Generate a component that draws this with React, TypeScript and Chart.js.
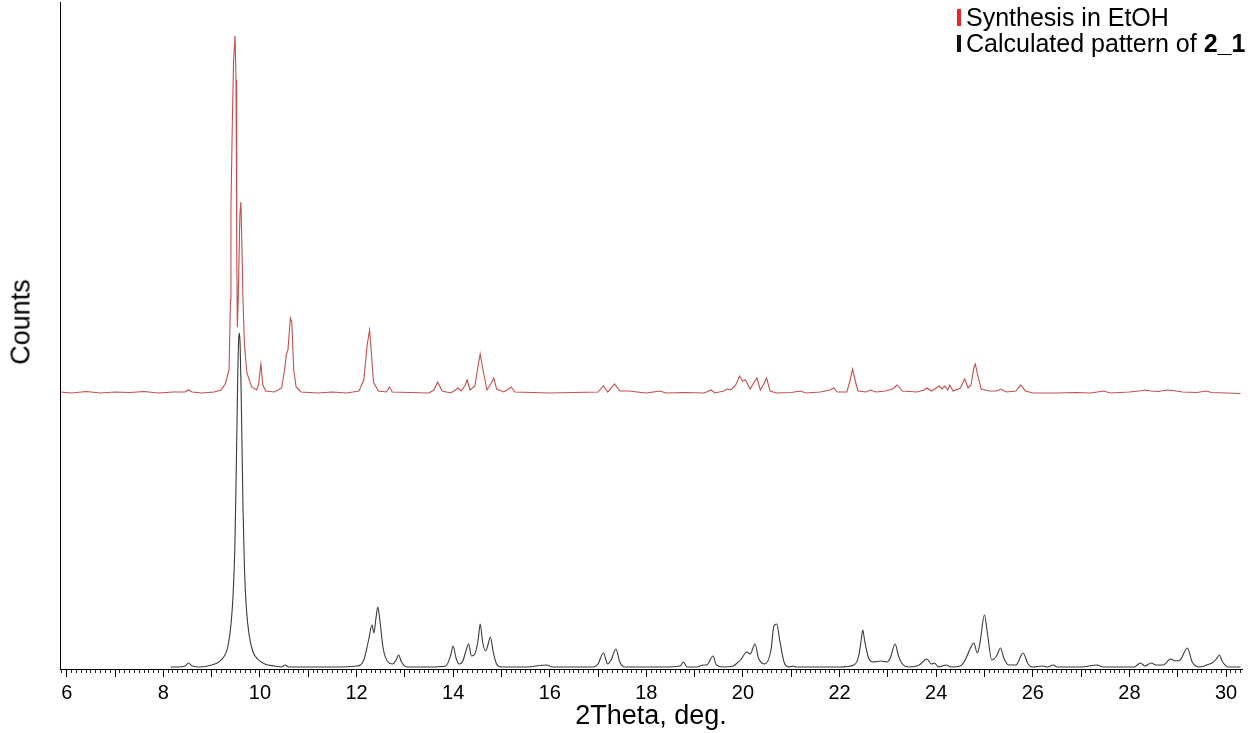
import { useEffect, useRef } from "react";
import { Chart, registerables } from "chart.js";

Chart.register(...registerables);

// ---- Data: [2Theta (deg), counts (arb. units)] ----
const synthesisEtOH: [number, number][] = [
  [5.87, 277], [6.1, 276], [6.4, 277.5], [6.7, 276], [7.0, 277], [7.3, 276.5], [7.6, 277.5], [7.9, 276],
  [8.2, 277], [8.45, 277], [8.52, 279], [8.6, 277], [8.8, 276], [9.05, 277], [9.2, 279], [9.29, 286],
  [9.36, 299], [9.39, 369], [9.40, 462], [9.43, 549], [9.455, 609], [9.485, 633], [9.505, 589], [9.52, 419],
  [9.532, 342], [9.55, 369], [9.585, 454], [9.605, 467], [9.625, 429], [9.65, 369], [9.68, 324], [9.73, 296],
  [9.83, 282], [9.93, 279], [9.97, 284], [10.02, 305], [10.06, 284], [10.12, 278], [10.3, 277], [10.45, 281],
  [10.51, 299], [10.55, 315], [10.58, 319], [10.63, 351], [10.66, 347], [10.70, 299], [10.75, 282], [10.85, 277],
  [11.2, 276], [11.5, 277], [11.8, 276], [12.05, 278], [12.15, 289], [12.22, 324], [12.27, 339], [12.30, 321],
  [12.35, 287], [12.45, 278], [12.62, 277], [12.68, 282], [12.74, 277], [13.5, 276], [13.6, 279], [13.68, 287],
  [13.77, 278], [13.95, 276], [14.05, 279], [14.10, 281], [14.17, 278], [14.25, 284], [14.29, 289], [14.35, 279],
  [14.45, 283], [14.52, 304], [14.56, 315], [14.61, 301], [14.70, 279], [14.79, 286], [14.84, 291], [14.90, 280],
  [15.05, 277], [15.15, 280], [15.20, 282], [15.28, 277], [16.0, 276], [16.5, 276.5], [17.0, 277], [17.11, 283],
  [17.2, 277], [17.34, 285], [17.45, 278], [17.63, 278], [18.0, 276], [18.29, 278], [18.4, 276], [18.8, 276.5],
  [19.2, 276], [19.34, 279], [19.42, 276], [19.6, 278], [19.67, 280], [19.75, 279], [19.85, 284], [19.93, 293],
  [19.99, 288], [20.05, 289], [20.15, 280], [20.22, 286], [20.29, 291], [20.36, 279], [20.43, 285], [20.49, 291],
  [20.56, 278], [20.7, 276], [21.0, 276.5], [21.19, 278], [21.3, 276], [21.6, 277], [21.8, 279], [21.88, 281],
  [21.95, 277], [22.15, 277], [22.22, 289], [22.27, 300], [22.32, 289], [22.38, 278], [22.55, 277], [22.64, 279],
  [22.75, 277], [22.95, 278], [23.1, 280], [23.19, 284], [23.3, 278], [23.6, 277], [23.75, 279], [23.81, 281],
  [23.9, 278], [24.0, 281], [24.06, 283], [24.12, 280], [24.18, 283], [24.24, 279], [24.28, 284], [24.35, 278],
  [24.5, 281], [24.59, 290], [24.66, 281], [24.72, 284], [24.78, 301], [24.81, 305], [24.86, 294], [24.93, 280],
  [25.1, 278], [25.25, 278], [25.34, 280], [25.45, 277], [25.65, 278], [25.75, 284], [25.85, 278], [26.0, 276],
  [26.5, 276], [26.9, 276.5], [27.2, 276], [27.47, 278], [27.6, 276], [28.0, 277], [28.2, 278], [28.33, 279],
  [28.45, 278], [28.6, 277.5], [28.77, 279], [28.9, 278.5], [29.1, 277], [29.4, 276.5], [29.59, 278], [29.7, 276.5],
  [30.0, 276], [30.3, 275.5],
];

const calculated21: [number, number][] = [
  [8.15, 2], [8.3, 2], [8.45, 3], [8.52, 6], [8.6, 3], [8.75, 2], [9.0, 4], [9.15, 7],
  [9.25, 12], [9.33, 21], [9.4, 44], [9.45, 80], [9.48, 120], [9.5, 170], [9.52, 230], [9.54, 290],
  [9.56, 330], [9.575, 336], [9.59, 325], [9.61, 280], [9.63, 220], [9.65, 160], [9.68, 100], [9.72, 60],
  [9.78, 33], [9.85, 18], [9.95, 10], [10.1, 5], [10.3, 3], [10.45, 2], [10.52, 4], [10.6, 2],
  [11.0, 2], [11.5, 2], [12.0, 3], [12.15, 9], [12.25, 29], [12.32, 44], [12.36, 36], [12.40, 50],
  [12.44, 62], [12.48, 50], [12.55, 21], [12.65, 7], [12.75, 5], [12.82, 9], [12.87, 14], [12.93, 7],
  [13.05, 2], [13.5, 2], [13.85, 3], [13.95, 14], [14.00, 23], [14.06, 11], [14.12, 5], [14.2, 8],
  [14.27, 19], [14.32, 25], [14.38, 13], [14.45, 15], [14.52, 30], [14.56, 45], [14.61, 27], [14.67, 18],
  [14.72, 24], [14.77, 32], [14.83, 17], [14.9, 5], [15.0, 2], [15.5, 2], [15.94, 4], [16.05, 2],
  [16.5, 2], [16.9, 2], [17.0, 5], [17.11, 16], [17.2, 5], [17.27, 9], [17.37, 20], [17.45, 7],
  [17.55, 2], [18.0, 2], [18.3, 2], [18.7, 3], [18.77, 7], [18.84, 2], [19.05, 2], [19.18, 4],
  [19.25, 4], [19.38, 13], [19.45, 4], [19.6, 2], [19.8, 3], [19.88, 6], [19.95, 9], [20.08, 17],
  [20.15, 15], [20.25, 25], [20.32, 11], [20.45, 5], [20.58, 19], [20.64, 43], [20.7, 45], [20.76, 29],
  [20.85, 7], [20.95, 2], [21.04, 3], [21.1, 2], [21.5, 2], [22.0, 2], [22.3, 4], [22.4, 14],
  [22.45, 30], [22.48, 39], [22.52, 28], [22.6, 11], [22.7, 7], [22.85, 8], [22.98, 7], [23.05, 11],
  [23.15, 25], [23.22, 13], [23.3, 5], [23.45, 2], [23.65, 4], [23.81, 10], [23.9, 5], [23.96, 6],
  [24.05, 2], [24.21, 4], [24.3, 2], [24.5, 3], [24.6, 9], [24.7, 20], [24.78, 26], [24.85, 16],
  [24.9, 24], [25.0, 54], [25.06, 36], [25.15, 9], [25.25, 13], [25.33, 21], [25.4, 11], [25.5, 4],
  [25.65, 4], [25.8, 16], [25.9, 5], [26.0, 2], [26.2, 3], [26.3, 2], [26.43, 4], [26.5, 2],
  [27.0, 2], [27.33, 4], [27.45, 2], [28.0, 2], [28.1, 2], [28.23, 6], [28.32, 3], [28.45, 6],
  [28.55, 4], [28.7, 4], [28.85, 10], [28.95, 8], [29.05, 9], [29.20, 21], [29.3, 7], [29.45, 2],
  [29.6, 4], [29.71, 6], [29.8, 10], [29.86, 14], [29.93, 7], [30.05, 2], [30.3, 2],
];

const xTickLabels = [6, 8, 10, 12, 14, 16, 18, 20, 22, 24, 26, 28, 30];
const seriesNames = ["Synthesis in EtOH", "Calculated pattern of 2_1"];
const seriesColors = ["#c0504d", "#3a3a3a"];
const legendMarkerColors = ["#e8262b", "#111111"];

const X_MIN = 5.861;
const X_MAX = 30.331;
const Y_MIN = 0;
const Y_MAX = 667;

const FONT = "'Liberation Sans', Arial, Helvetica, sans-serif";

export default function App() {
  const canvasRef = useRef<HTMLCanvasElement>(null);

  useEffect(() => {
    if (!canvasRef.current) return;
    const chart = new Chart(canvasRef.current, {
      type: "line",
      data: {
        datasets: [
          {
            label: seriesNames[0],
            data: synthesisEtOH.map(([x, y]) => ({ x, y })),
            borderColor: seriesColors[0],
            borderWidth: 1.1,
            pointRadius: 0,
            tension: 0,
            xAxisID: "x",
            yAxisID: "y",
          },
          {
            label: seriesNames[1],
            data: calculated21.map(([x, y]) => ({ x, y })),
            borderColor: seriesColors[1],
            borderWidth: 1.1,
            pointRadius: 0,
            cubicInterpolationMode: "monotone",
            xAxisID: "x",
            yAxisID: "y",
          },
        ],
      },
      options: {
        responsive: false,
        animation: false,
        events: [],
        layout: { padding: { top: 2, right: 14, bottom: 0, left: 0 } },
        plugins: { legend: { display: false }, tooltip: { enabled: false } },
        scales: {
          xMinor: {
            type: "linear",
            position: "bottom",
            weight: 0,
            min: X_MIN,
            max: X_MAX,
            afterFit: (s: any) => {
              s.height = 0;
            },
            border: { display: false },
            grid: { drawOnChartArea: false, drawTicks: true, tickLength: 4, tickColor: "#222", tickWidth: 1 },
            ticks: { display: false, stepSize: 0.1, includeBounds: false, autoSkip: false },
          },
          x: {
            type: "linear",
            position: "bottom",
            weight: 1,
            min: X_MIN,
            max: X_MAX,
            afterFit: (s: any) => {
              s.height = 64;
            },
            border: { display: true, color: "#000", width: 1 },
            grid: { drawOnChartArea: false, drawTicks: true, tickLength: 8, tickColor: "#000", tickWidth: 1 },
            ticks: {
              stepSize: 1,
              includeBounds: false,
              autoSkip: false,
              maxRotation: 0,
              color: "#000",
              padding: 4,
              font: { family: FONT, size: 20 },
              callback: (v: any) => (xTickLabels.includes(Number(v)) ? String(v) : ""),
            },
            title: {
              display: true,
              text: "2Theta, deg.",
              color: "#000",
              font: { family: FONT, size: 27 },
              padding: { top: 0, bottom: 0 },
            },
          },
          y: {
            type: "linear",
            min: Y_MIN,
            max: Y_MAX,
            afterFit: (s: any) => {
              s.width = 60;
            },
            border: { display: true, color: "#000", width: 1 },
            grid: { drawOnChartArea: false, drawTicks: false },
            ticks: { display: false },
          },
        },
      },
    });
    return () => chart.destroy();
  }, []);

  return (
    <div
      style={{
        position: "fixed",
        left: 0,
        top: 0,
        width: 1256,
        height: 733,
        background: "#fff",
        fontFamily: FONT,
        overflow: "hidden",
      }}
    >
      <canvas ref={canvasRef} width={1256} height={733} style={{ display: "block" }} />
      <div
        style={{
          position: "absolute",
          left: 21,
          top: 322,
          transform: "translate(-50%, -50%) rotate(-90deg)",
          fontSize: 27,
          color: "#000",
          whiteSpace: "nowrap",
        }}
      >
        Counts
      </div>
      <div style={{ position: "absolute", left: 957, top: 4, fontSize: 25, lineHeight: "26px", color: "#000" }}>
        {seriesNames.map((name, i) => (
          <div key={name} style={{ display: "flex", alignItems: "center", whiteSpace: "nowrap" }}>
            <span
              style={{
                display: "inline-block",
                width: 4,
                height: 17,
                background: legendMarkerColors[i],
                marginRight: 5,
              }}
            />
            {i === 1 ? (
              <span>
                Calculated pattern of <b>2_1</b>
              </span>
            ) : (
              <span>{name}</span>
            )}
          </div>
        ))}
      </div>
    </div>
  );
}
